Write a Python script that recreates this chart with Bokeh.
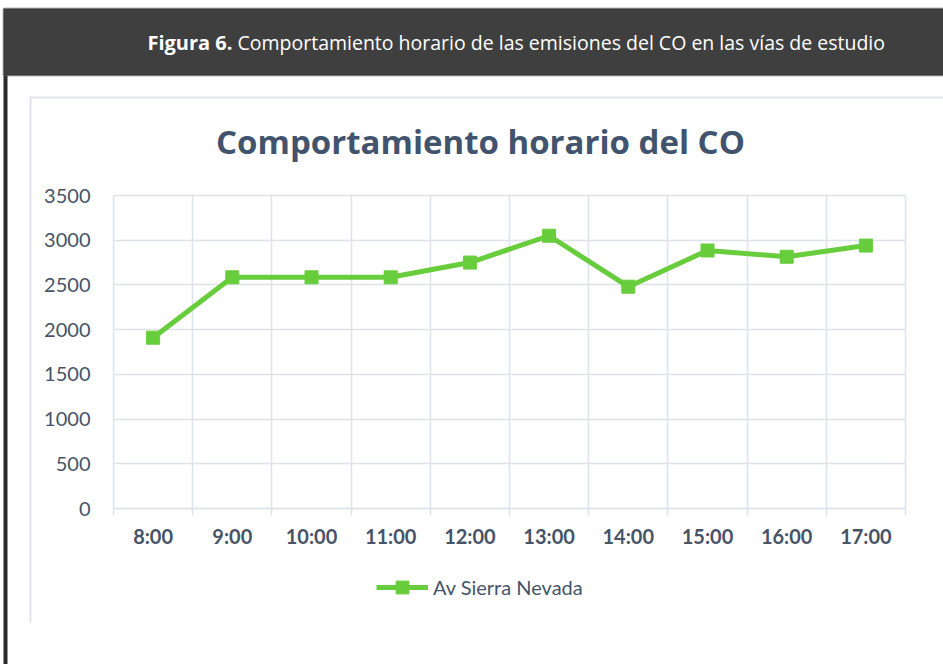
from bokeh.plotting import figure
from bokeh.models import (FixedTicker, Label, BoxAnnotation, Legend, LegendItem,
                          Range1d, LinearAxis, Grid)
from bokeh.embed import file_html
from bokeh.resources import INLINE

# ---- data ----
hours = ["8:00", "9:00", "10:00", "11:00", "12:00", "13:00", "14:00", "15:00", "16:00", "17:00"]
co_values = [1910, 2585, 2585, 2585, 2750, 3050, 2480, 2885, 2815, 2940]
y_ticks = [0, 500, 1000, 1500, 2000, 2500, 3000, 3500]
series_name = "Av Sierra Nevada"
chart_title = "Comportamiento horario del CO"
header_bold = "Figura 6."
header_rest = "Comportamiento horario de las emisiones del CO en las vías de estudio"

# ---- layout / styles ----
W, H = 943, 664
CL, CR, CT, CB = 113, 905, 195, 508   # chart plotting area on the canvas (px)
GREEN = "#68CD3C"
GRID = "#dde3ea"
TXT = "#475467"
TITLE_C = "#42546d"
FONT = "Lato"

n = len(hours)
xc = [i + 0.5 for i in range(n)]
bounds = list(range(n + 1))
ymax = y_ticks[-1]

kx = (CR - CL) / n
ky = (CB - CT) / ymax
x_range = Range1d(-CL / kx, n + (W - CR) / kx)
y_range = Range1d(-(H - CB) / ky, ymax + CT / ky)

p = figure(width=W, height=H, output_backend="svg", toolbar_location=None,
           x_range=x_range, y_range=y_range, title_location=None,
           x_axis_location=None, y_axis_location=None,
           min_border=0, min_border_left=0, min_border_right=0,
           min_border_top=0, min_border_bottom=0)
p.outline_line_color = None
p.background_fill_color = "white"
p.border_fill_color = "white"
p.xgrid.visible = False
p.ygrid.visible = False

# ---- grid ----
try:
    xg = Grid(dimension=0, ticker=FixedTicker(ticks=bounds), cross_bounds=(0, ymax))
    yg = Grid(dimension=1, ticker=FixedTicker(ticks=y_ticks), cross_bounds=(0, n))
    for g in (xg, yg):
        g.grid_line_color = GRID
        g.grid_line_width = 1.5
        p.add_layout(g)
except Exception:
    p.segment(x0=bounds, y0=[0] * len(bounds), x1=bounds, y1=[ymax] * len(bounds),
              line_color=GRID, line_width=1.5)
    p.segment(x0=[0] * len(y_ticks), y0=y_ticks, x1=[n] * len(y_ticks), y1=y_ticks,
              line_color=GRID, line_width=1.5)

# ---- axes (fixed inside the frame) ----
xaxis = LinearAxis(fixed_location=0, bounds=(0, n),
                   ticker=FixedTicker(ticks=xc, minor_ticks=bounds))
xaxis.major_label_overrides = {xv: h for xv, h in zip(xc, hours)}
xaxis.axis_line_color = GRID
xaxis.axis_line_width = 1.5
xaxis.major_tick_line_color = None
xaxis.minor_tick_line_color = GRID
xaxis.minor_tick_line_width = 1.5
xaxis.minor_tick_in = 0
xaxis.minor_tick_out = 7
xaxis.major_label_standoff = 8
xaxis.major_label_text_font = FONT
xaxis.major_label_text_font_style = "bold"
xaxis.major_label_text_font_size = "20px"
xaxis.major_label_text_color = TXT
p.add_layout(xaxis, "below")

yaxis = LinearAxis(fixed_location=0, ticker=FixedTicker(ticks=y_ticks))
yaxis.axis_line_color = None
yaxis.major_tick_line_color = None
yaxis.minor_tick_line_color = None
yaxis.major_label_standoff = 17
yaxis.major_label_text_font = FONT
yaxis.major_label_text_font_size = "20px"
yaxis.major_label_text_color = TXT
p.add_layout(yaxis, "left")

# ---- series ----
ln = p.line(xc, co_values, line_width=5, color=GREEN)
sq = p.scatter(xc, co_values, marker="square", size=13, color=GREEN)

legend = Legend(items=[LegendItem(label=series_name, renderers=[ln, sq])],
                location=(376, H - 603), orientation="horizontal",
                glyph_width=52, glyph_height=32,
                label_standoff=5, padding=0, margin=0, spacing=0,
                border_line_color=None, background_fill_alpha=0,
                label_text_font=FONT, label_text_font_size="20px",
                label_text_color=TXT)
p.add_layout(legend, "center")


# ---- decorations (screen units: px from the canvas' left / bottom) ----
def sy(cy):
    return H - cy


def box(l, t, r, b, **kw):
    return BoxAnnotation(left=l, right=r, top=sy(t), bottom=sy(b),
                         left_units="screen", right_units="screen",
                         top_units="screen", bottom_units="screen", **kw)


p.add_layout(box(3, 8, W + 5, 75, fill_color="#3f3f3f", fill_alpha=1,
                 line_color="#1e1e1e", line_width=2, level="underlay"))
p.add_layout(box(3, 75, 7, H + 5, fill_color="#2a2a2a", fill_alpha=1,
                 line_color=None, level="underlay"))
p.add_layout(box(29, 96, 31, 622, fill_color="#dfe4ea", fill_alpha=1,
                 line_color=None, level="underlay"))
p.add_layout(box(29, 96, W + 5, 98, fill_color="#dfe4ea", fill_alpha=1,
                 line_color=None, level="underlay"))

p.add_layout(Label(x=232, y=sy(42), x_units="screen", y_units="screen",
                   text=header_bold, text_align="right", text_baseline="middle",
                   text_font="Open Sans", text_font_style="bold",
                   text_font_size="20px", text_color="white"))
p.add_layout(Label(x=237, y=sy(42), x_units="screen", y_units="screen",
                   text=header_rest, text_align="left", text_baseline="middle",
                   text_font="Open Sans", text_font_size="19.5px",
                   text_color="white"))

p.add_layout(Label(x=480, y=sy(141), x_units="screen", y_units="screen",
                   text=chart_title, text_align="center", text_baseline="middle",
                   text_font="Open Sans", text_font_style="bold",
                   text_font_size="33px", text_color=TITLE_C))

open("out.html", "w").write(file_html(p, INLINE))
